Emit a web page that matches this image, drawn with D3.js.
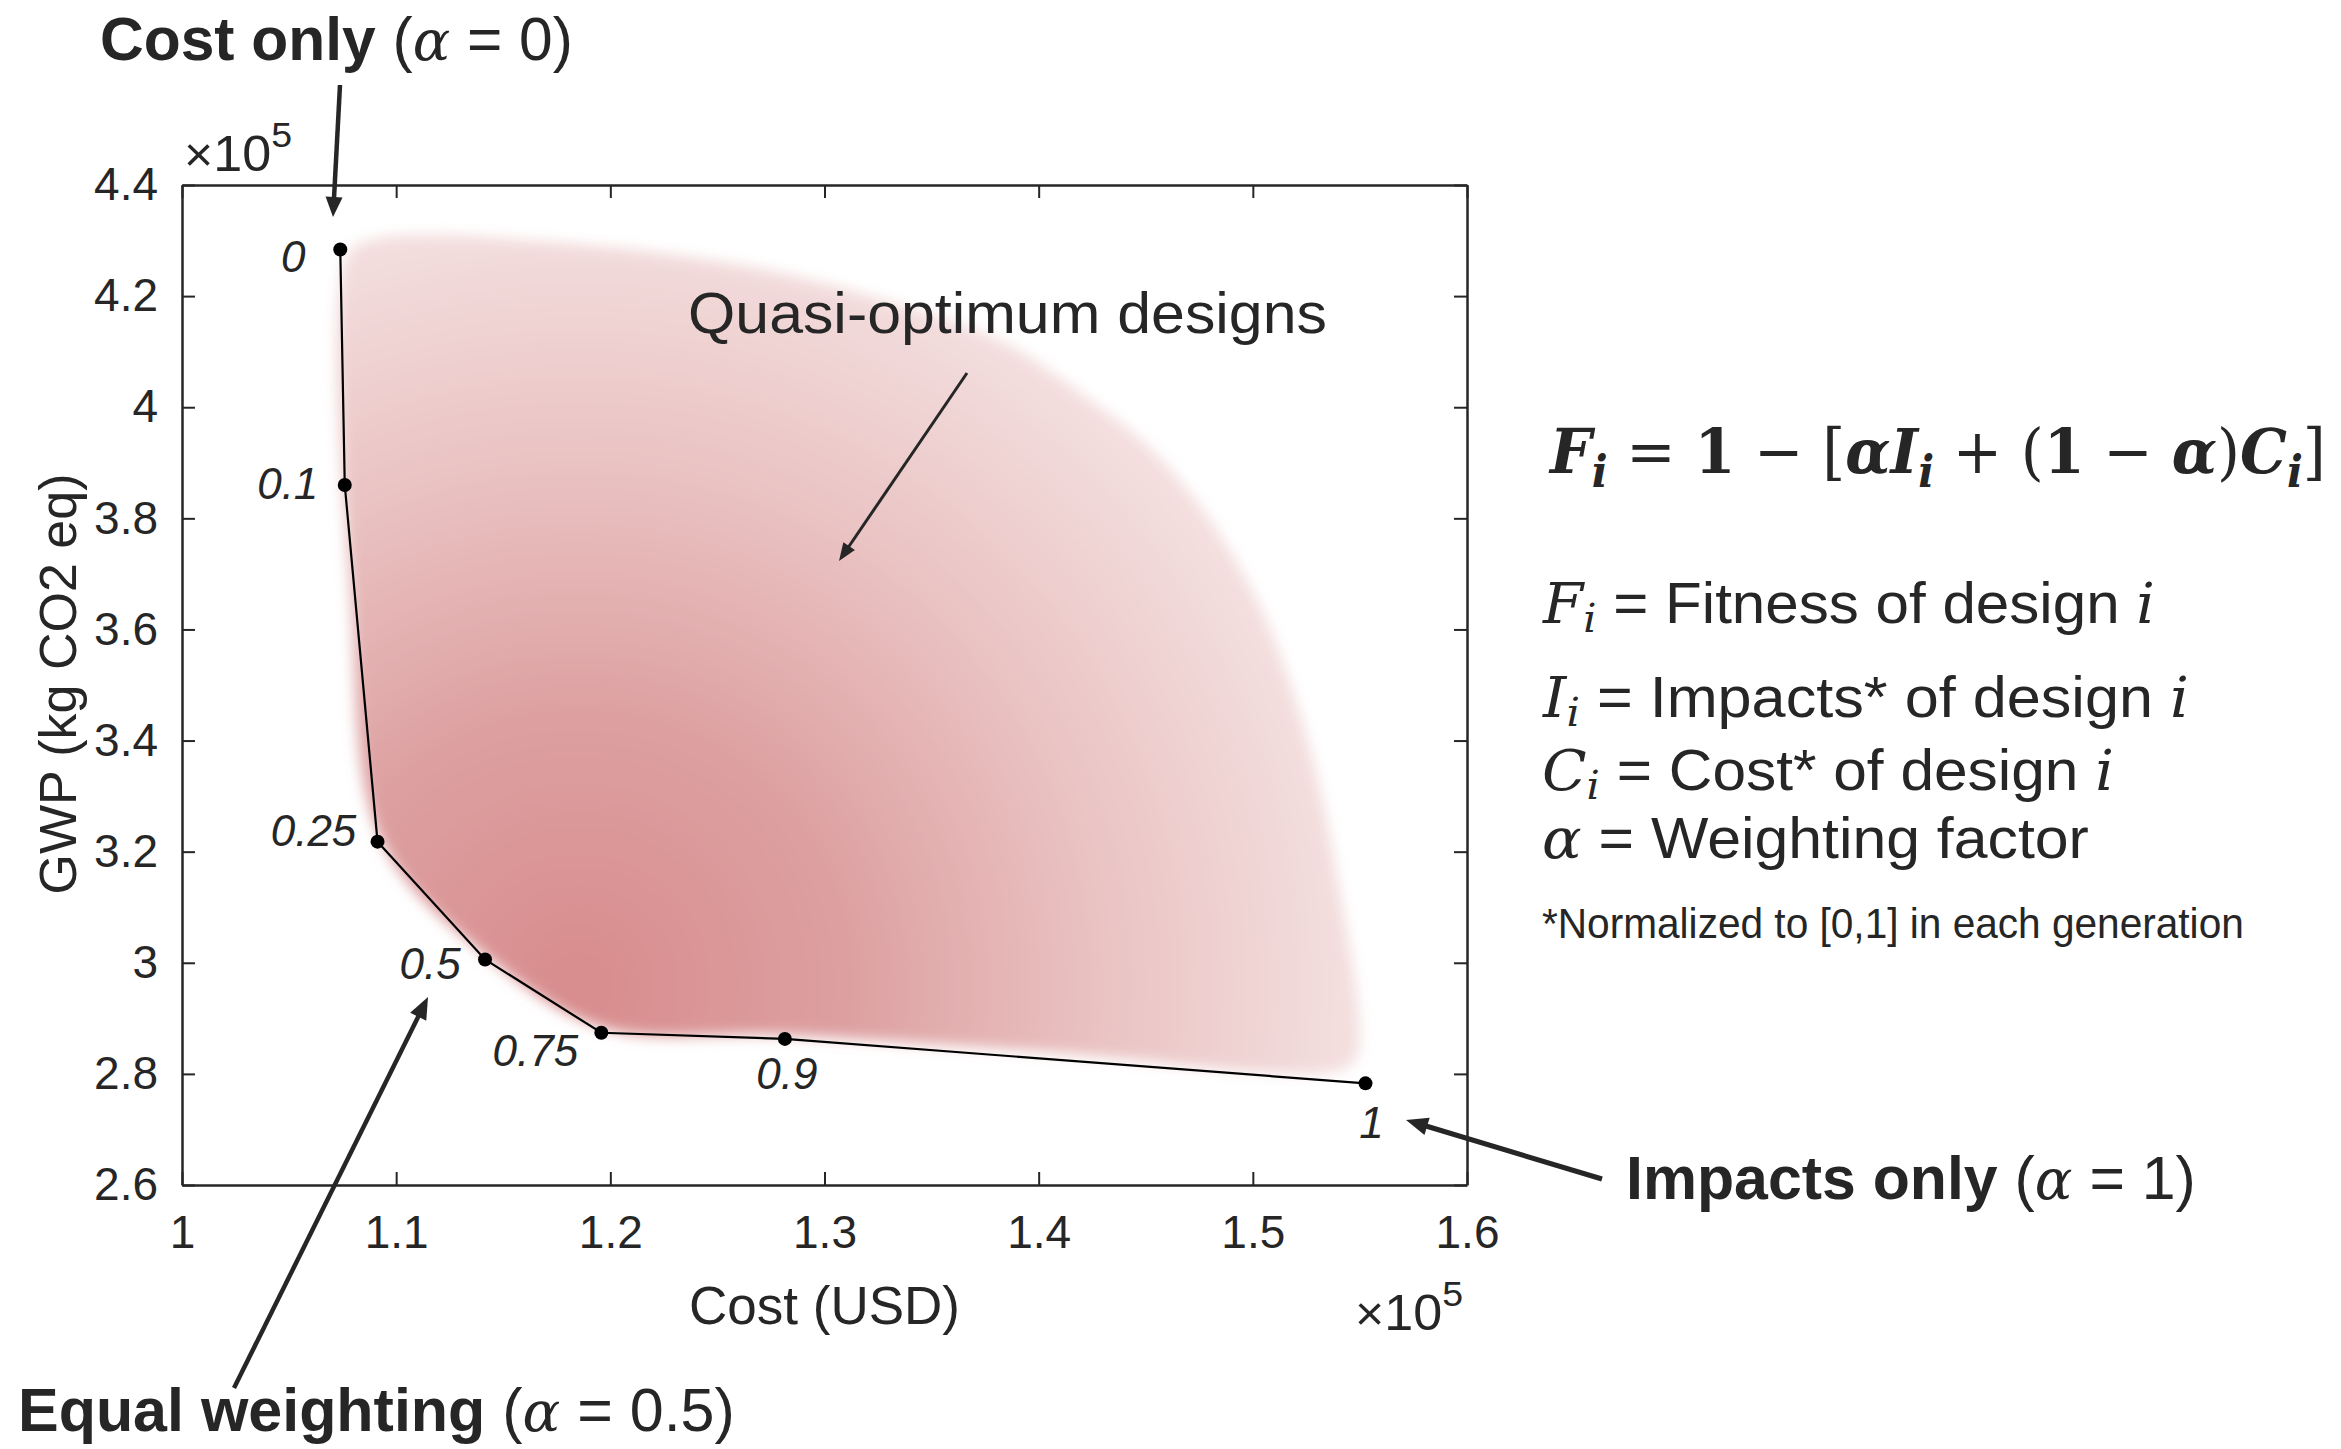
<!DOCTYPE html>
<html><head><meta charset="utf-8">
<script src="https://cdn.jsdelivr.net/npm/d3@7"></script>
<style>body{margin:0;background:#fff;} svg{display:block;} text{white-space:pre;}</style>
</head><body>
<script>
// ---------------- DATA ----------------
const alphaLabels = ["0", "0.1", "0.25", "0.5", "0.75", "0.9", "1"];
const frontCost = [1.0739, 1.0760, 1.0913, 1.1415, 1.1958, 1.2815, 1.5526];   // x 10^5 USD
const frontGwp  = [4.284, 3.860, 3.218, 3.006, 2.874, 2.863, 2.783];           // x 10^5 kg CO2 eq
const xTicks = [1, 1.1, 1.2, 1.3, 1.4, 1.5, 1.6];
const yTicks = [2.6, 2.8, 3, 3.2, 3.4, 3.6, 3.8, 4, 4.2, 4.4];
// outline of the quasi-optimum design cloud
const cloudCost = [1.0774, 1.0893, 1.1172, 1.1660, 1.2219, 1.2777, 1.3335, 1.3823, 1.4186, 1.4521, 1.4800, 1.5030, 1.5191, 1.5316, 1.5407, 1.5470, 1.5498, 1.5484, 1.5393, 1.4033, 1.2819, 1.1967, 1.1423, 1.0928, 1.0788];
const cloudGwp  = [4.275, 4.302, 4.310, 4.299, 4.278, 4.243, 4.186, 4.119, 4.028, 3.926, 3.797, 3.644, 3.483, 3.308, 3.125, 2.985, 2.878, 2.830, 2.805, 2.840, 2.870, 2.883, 3.012, 3.222, 3.657];

// ---------------- LAYOUT ----------------
const W = 2341, H = 1449;
const plot = {left: 182, right: 1467, top: 185, bottom: 1185};
const ink = "#262626";
const sans = "'Liberation Sans', Arial, Helvetica, sans-serif";
const serif = "'DejaVu Serif', 'Liberation Serif', serif";
const labelOffsets = [[-47, 7], [-57, -2], [-64, -11], [-55, 4], [-66, 18], [2, 35], [6, 39]];

const svg = d3.select("body").append("svg").attr("width", W).attr("height", H);
const x = d3.scaleLinear().domain([1, 1.6]).range([plot.left, plot.right]);
const y = d3.scaleLinear().domain([2.6, 4.4]).range([plot.bottom, plot.top]);

// ---------------- CLOUD ----------------
const defs = svg.append("defs");
const grad = defs.append("radialGradient").attr("id", "cloudGrad")
  .attr("gradientUnits", "userSpaceOnUse")
  .attr("cx", x(1.185)).attr("cy", y(2.96)).attr("r", 880);
[[0, "#d88c8d"], [0.3, "#dd9fa0"], [0.6, "#eac3c3"], [0.85, "#f3dcdc"], [1, "#f7e8e8"]]
  .forEach(([o, c]) => grad.append("stop").attr("offset", o).attr("stop-color", c));
defs.append("filter").attr("id", "blur")
  .attr("x", "-20%").attr("y", "-20%").attr("width", "140%").attr("height", "140%")
  .append("feGaussianBlur").attr("stdDeviation", 7);

const cloud = cloudCost.map((c, i) => [c, cloudGwp[i]]);
svg.append("path").datum(cloud)
  .attr("d", d3.line().x(d => x(d[0])).y(d => y(d[1])).curve(d3.curveCatmullRomClosed.alpha(0.5)))
  .attr("fill", "url(#cloudGrad)").attr("filter", "url(#blur)");

// ---------------- AXES ----------------
function styleAxis(g, labels) {
  g.select(".domain").attr("stroke", ink).attr("stroke-width", 2.5);
  g.selectAll(".tick line").attr("stroke", ink).attr("stroke-width", 2);
  g.selectAll(".tick text").attr("fill", ink).style("font-family", sans).style("font-size", "46px");
  if (!labels) g.selectAll(".tick text").remove();
}
const fmt = d => String(d);
svg.append("g").attr("transform", `translate(0,${plot.bottom})`)
  .call(d3.axisBottom(x).tickValues(xTicks).tickFormat(fmt).tickSizeInner(-13).tickSizeOuter(0).tickPadding(30))
  .call(g => styleAxis(g, true));
svg.append("g").attr("transform", `translate(0,${plot.top})`)
  .call(d3.axisTop(x).tickValues(xTicks).tickSizeInner(-13).tickSizeOuter(0))
  .call(g => styleAxis(g, false));
svg.append("g").attr("transform", `translate(${plot.left},0)`)
  .call(d3.axisLeft(y).tickValues(yTicks).tickFormat(fmt).tickSizeInner(-13).tickSizeOuter(0).tickPadding(24))
  .call(g => styleAxis(g, true));
svg.append("g").attr("transform", `translate(${plot.right},0)`)
  .call(d3.axisRight(y).tickValues(yTicks).tickSizeInner(-13).tickSizeOuter(0))
  .call(g => styleAxis(g, false));

// rich text helpers
function rich(parent, px, py, parts) {
  const t = parent.append("text").attr("x", px).attr("y", py).attr("fill", ink);
  let cur = 0;
  parts.forEach(p => {
    const sh = p.sub || 0;
    t.append("tspan").attr("dy", sh - cur).text(p.t)
      .style("font-family", p.f || sans).style("font-size", p.s + "px")
      .style("font-weight", p.w || "normal").style("font-style", p.i ? "italic" : "normal");
    cur = sh;
  });
  return t;
}
function fit(t, x0, targetW) {
  const bb = t.node().getBBox();
  const s = targetW / bb.width;
  t.attr("transform", `translate(${x0 - s * bb.x},0) scale(${s},1)`);
}
// exponent labels
fit(rich(svg, 0, 171, [{t: "×", s: 48}, {t: "10", s: 50}, {t: "5", s: 36, sub: -24}]), 184, 108);
fit(rich(svg, 0, 1330, [{t: "×", s: 48}, {t: "10", s: 50}, {t: "5", s: 36, sub: -24}]), 1355, 108);

// axis titles
svg.append("text").attr("x", (plot.left + plot.right) / 2).attr("y", 1324)
  .attr("text-anchor", "middle").attr("fill", ink)
  .style("font-family", sans).style("font-size", "53px").text("Cost (USD)");
svg.append("text").attr("transform", `translate(76,${684}) rotate(-90)`)
  .attr("text-anchor", "middle").attr("fill", ink)
  .style("font-family", sans).style("font-size", "52px").text("GWP (kg CO2 eq)");

// ---------------- FRONT ----------------
const front = frontCost.map((c, i) => ({c, g: frontGwp[i], a: alphaLabels[i], o: labelOffsets[i]}));
svg.append("path").datum(front)
  .attr("d", d3.line().x(d => x(d.c)).y(d => y(d.g)))
  .attr("fill", "none").attr("stroke", "#000").attr("stroke-width", 2.2);
svg.selectAll("circle.pt").data(front).join("circle").attr("class", "pt")
  .attr("cx", d => x(d.c)).attr("cy", d => y(d.g)).attr("r", 7).attr("fill", "#000");
svg.selectAll("text.al").data(front).join("text").attr("class", "al")
  .attr("x", d => x(d.c) + d.o[0]).attr("y", d => y(d.g) + d.o[1])
  .attr("text-anchor", "middle").attr("dominant-baseline", "central").attr("fill", ink)
  .style("font-family", sans).style("font-style", "italic").style("font-size", "44px")
  .text(d => d.a);

// ---------------- ANNOTATIONS ----------------
function arrow(x1, y1, x2, y2, w, L, hw) {
  const dx = x2 - x1, dy = y2 - y1, len = Math.hypot(dx, dy);
  const ux = dx / len, uy = dy / len;
  const bx = x2 - ux * L, by = y2 - uy * L;
  svg.append("line").attr("x1", x1).attr("y1", y1).attr("x2", bx + ux * 2).attr("y2", by + uy * 2)
    .attr("stroke", ink).attr("stroke-width", w);
  svg.append("path").attr("d", `M${x2},${y2}L${bx - uy * hw},${by + ux * hw}L${bx + uy * hw},${by - ux * hw}Z`)
    .attr("fill", ink);
}
arrow(340, 85, 333, 217, 4.5, 20, 8.5);
arrow(967, 373, 839, 561, 3, 18, 7);
arrow(234, 1388, 428, 997, 4.5, 22, 9);
arrow(1602, 1179, 1406, 1120, 5, 22, 9);

const t1 = rich(svg, 0, 60, [{t: "Cost only", s: 61, w: "bold"}, {t: " (", s: 61}, {t: "α", s: 56, f: serif, i: true}, {t: " = 0)", s: 61}]);
fit(t1, 100, 473);
const t2 = rich(svg, 0, 1199, [{t: "Impacts only", s: 61, w: "bold"}, {t: " (", s: 61}, {t: "α", s: 56, f: serif, i: true}, {t: " = 1)", s: 61}]);
fit(t2, 1626, 570);
const t3 = rich(svg, 0, 1431, [{t: "Equal weighting", s: 61, w: "bold"}, {t: " (", s: 61}, {t: "α", s: 56, f: serif, i: true}, {t: " = 0.5)", s: 61}]);
fit(t3, 18, 717);
const tq = rich(svg, 0, 333, [{t: "Quasi-optimum designs", s: 58}]);
fit(tq, 688, 639);

// formula
const B = {f: serif, s: 62, w: "bold", i: true};
const N = {f: serif, s: 62};
const S = {f: serif, s: 44, w: "bold", i: true, sub: 14};
const tf = rich(svg, 0, 473, [
  {...B, t: "F"}, {...S, t: "i"}, {...N, t: " = "}, {...N, w: "bold", t: "1"}, {...N, t: " − ["},
  {...B, t: "α"}, {...B, t: "I"}, {...S, t: "i"}, {...N, t: " + ("}, {...N, w: "bold", t: "1"},
  {...N, t: " − "}, {...B, t: "α"}, {...N, t: ")"}, {...B, t: "C"}, {...S, t: "i"}, {...N, t: "]"}
]);
fit(tf, 1548, 778);

// definitions
const M = {f: serif, s: 56, i: true};
const MS = {f: serif, s: 40, i: true, sub: 9};
const R = {s: 58};
const defsLines = [
  {y: 623, w: 613, parts: [{...M, t: "F"}, {...MS, t: "i"}, {...R, t: " = Fitness of design "}, {...M, t: "i"}]},
  {y: 717, w: 647, parts: [{...M, t: "I"}, {...MS, t: "i"}, {...R, t: " = Impacts* of design "}, {...M, t: "i"}]},
  {y: 790, w: 572, parts: [{...M, t: "C"}, {...MS, t: "i"}, {...R, t: " = Cost* of design "}, {...M, t: "i"}]},
  {y: 858, w: 547, parts: [{...M, t: "α"}, {...R, t: " = Weighting factor"}]},
  {y: 938, w: 702, parts: [{s: 42, t: "*Normalized to [0,1] in each generation"}]}
];
defsLines.forEach(l => fit(rich(svg, 0, l.y, l.parts), 1542, l.w));
</script>
</body></html>
